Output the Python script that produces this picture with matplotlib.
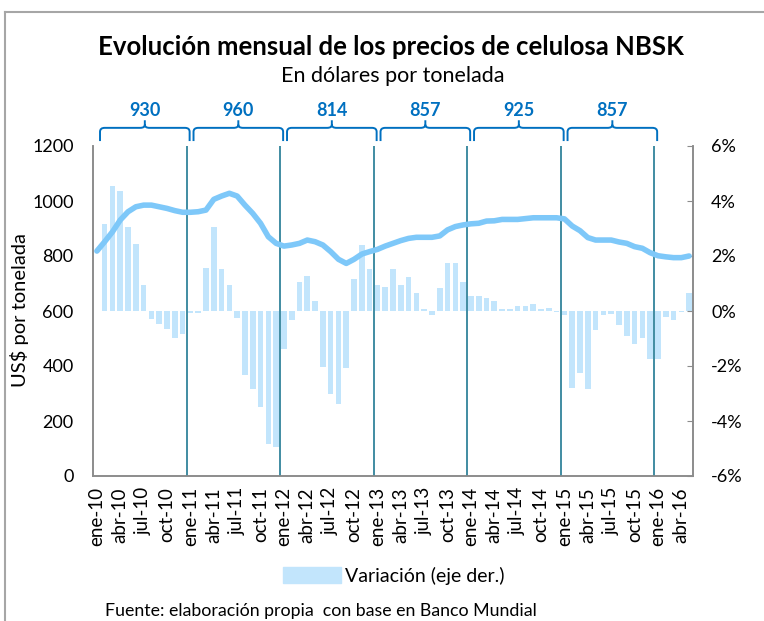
import matplotlib
matplotlib.use("Agg")
import matplotlib.pyplot as plt
import numpy as np
from matplotlib.path import Path
from matplotlib.patches import PathPatch, Patch
from matplotlib.lines import Line2D
import matplotlib.transforms as mtransforms

plt.rcParams['font.family'] = ['Lato', 'DejaVu Sans']

# monthly NBSK price, ene-10 .. may-16 (US$/t, left axis)
price = [818, 852, 888, 931, 961, 979, 985, 985, 979, 973, 965, 959,
         959, 961, 967, 1006, 1018, 1028, 1018, 985, 955, 919, 870, 846,
         836, 840, 846, 858, 852, 840, 816, 788, 773, 788, 807, 816,
         824, 836, 846, 856, 864, 868, 868, 868, 873, 895, 907, 913,
         917, 919, 927, 928, 933, 933, 933, 936, 939, 939, 939, 939,
         935, 909, 892, 867, 858, 858, 858, 851, 846, 834, 828, 812,
         801, 797, 794, 794, 800]

# monthly variation in % (right axis)
variation = [np.nan, 3.16, 4.55, 4.37, 3.04, 2.44, 0.93, -0.28, -0.46, -0.64, -0.98, -0.82,
             -0.06, -0.06, 1.57, 3.04, 1.52, 0.93, -0.24, -2.33, -2.85, -3.50, -4.83, -4.95,
             -1.39, -0.34, 1.05, 1.29, 0.35, -2.03, -3.02, -3.38, -2.09, 1.17, 2.40, 1.53,
             0.95, 0.87, 1.53, 0.95, 1.23, 0.65, 0.06, -0.16, 0.83, 1.75, 1.75, 1.05,
             0.53, 0.53, 0.47, 0.35, 0.06, 0.06, 0.18, 0.18, 0.24, 0.06, 0.12, -0.04,
             -0.16, -2.79, -2.27, -2.85, -0.70, -0.16, -0.10, -0.52, -0.92, -1.21, -0.98, -1.73,
             -1.73, -0.22, -0.34, -0.04, 0.65]

tick_labels = ['ene-10', 'abr-10', 'jul-10', 'oct-10', 'ene-11', 'abr-11', 'jul-11', 'oct-11',
               'ene-12', 'abr-12', 'jul-12', 'oct-12', 'ene-13', 'abr-13', 'jul-13', 'oct-13',
               'ene-14', 'abr-14', 'jul-14', 'oct-14', 'ene-15', 'abr-15', 'jul-15', 'oct-15',
               'ene-16', 'abr-16']

annual_avg = [930, 960, 814, 857, 925, 857]

bar_color = '#C2E5FC'
line_color = '#7EC8F9'
brace_color = '#0070C0'
vline_color = '#31849B'
axis_color = '#8C8C8C'

x = np.arange(len(price))

fig = plt.figure(figsize=(7.64, 6.21), dpi=100)
ax = fig.add_axes([93 / 764, 1 - 476 / 621, 600 / 764, 330 / 621])
ax2 = ax.twinx()

# bars on secondary axis, line on top
ax2.bar(x, variation, width=0.72, color=bar_color, label='Variación (eje der.)')
ax2.set_ylim(-6, 6)
ax2.set_yticks(np.arange(-6, 7, 2))
ax2.set_yticklabels([f'{v}%' for v in range(-6, 7, 2)])

ax.plot(x, price, color=line_color, lw=4, solid_capstyle='round', zorder=3)
ax.set_zorder(ax2.get_zorder() + 1)
ax.patch.set_visible(False)
ax.set_ylim(0, 1200)
ax.set_yticks(range(0, 1201, 200))
ax.set_xlim(-0.5, len(price) - 0.5)
ax.set_xticks(x[::3])
ax.set_xticklabels(tick_labels, rotation=90)

for k in range(1, 7):
    ax.axvline(12 * k - 0.5, color=vline_color, lw=1.3, zorder=2)

for a in (ax, ax2):
    for s in a.spines.values():
        s.set_color(axis_color)
        s.set_linewidth(1.2)
    a.spines['top'].set_visible(False)

ax.tick_params(axis='y', length=0, pad=14, labelsize=13)
ax.tick_params(axis='x', length=0, pad=8, labelsize=13.5)
ax2.tick_params(axis='y', direction='in', length=4, color=axis_color, pad=13, labelsize=13)

# braces with yearly averages
trans = mtransforms.blended_transform_factory(ax.transData, ax.transAxes)
y_low, y_top, y_tip = 1.015, 1.055, 1.078
r = 0.6
ry = 0.012
for k, avg in enumerate(annual_avg):
    x0 = 12 * k + 0.4
    x1 = 12 * k + 11.9
    xm = (x0 + x1) / 2
    verts = [(x0, y_low), (x0, y_top - ry), (x0, y_top), (x0 + r, y_top),
             (xm - r, y_top), (xm, y_top), (xm, y_top + ry * 0.8),
             (xm, y_tip),
             (xm, y_top + ry * 0.8), (xm, y_top), (xm + r, y_top),
             (x1 - r, y_top), (x1, y_top), (x1, y_top - ry), (x1, y_low)]
    codes = [Path.MOVETO, Path.LINETO, Path.CURVE3, Path.CURVE3,
             Path.LINETO, Path.CURVE3, Path.CURVE3,
             Path.LINETO,
             Path.MOVETO, Path.CURVE3, Path.CURVE3,
             Path.LINETO, Path.CURVE3, Path.CURVE3, Path.LINETO]
    ax.add_patch(PathPatch(Path(verts, codes), transform=trans, fill=False,
                           edgecolor=brace_color, lw=1.4, clip_on=False))
    ax.text(xm, 1.108, str(avg), transform=trans, ha='center', va='center',
            color=brace_color, fontsize=13, fontweight='bold')

fig.text(391 / 764, 1 - 47 / 621, 'Evolución mensual de los precios de celulosa NBSK',
         ha='center', va='center', fontsize=18.5, fontweight='bold')
fig.text(393 / 764, 1 - 76 / 621, 'En dólares por tonelada',
         ha='center', va='center', fontsize=15.5)
fig.text(20 / 764, 1 - 310 / 621, 'US$ por tonelada', rotation=90,
         ha='center', va='center', fontsize=14.5)

fig.legend(handles=[Patch(color=bar_color, label='Variación (eje der.)')],
           loc='center', bbox_to_anchor=(394 / 764, 1 - 576 / 621), frameon=False,
           fontsize=14, handlelength=3.0, handleheight=0.9, handletextpad=0.2)

fig.text(105 / 764, 1 - 611 / 621, 'Fuente: elaboración propia  con base en Banco Mundial',
         ha='left', va='center', fontsize=12.8)

# frame of the original document box
fig.add_artist(Line2D([5 / 764, 1], [1 - 12 / 621, 1 - 12 / 621], color='#A6A6A6', lw=1.5))
fig.add_artist(Line2D([5 / 764, 5 / 764], [0, 1 - 12 / 621], color='#A6A6A6', lw=1.5))

fig.savefig('out.png', dpi=100)
